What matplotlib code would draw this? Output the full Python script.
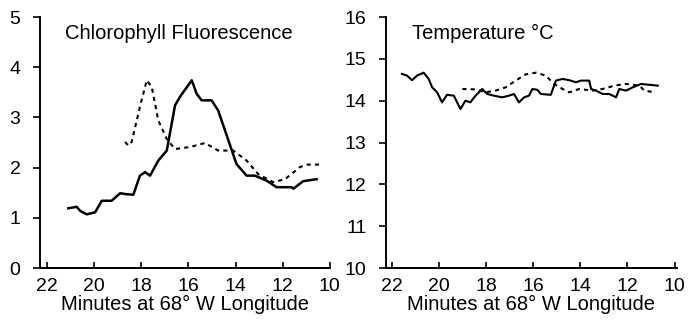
import matplotlib.pyplot as plt

plt.rcParams['font.family'] = ['Liberation Sans', 'DejaVu Sans']

# chlorophyll fluorescence, solid trace
chl_solid_min = [21.1, 20.74, 20.6, 20.32, 19.96, 19.68, 19.26, 18.9, 18.62, 18.34, 18.06,
                 17.84, 17.63, 17.28, 16.92, 16.57, 16.36, 15.86, 15.65, 15.44, 15.02,
                 14.74, 13.96, 13.53, 13.18, 12.68, 12.26, 11.62, 11.55, 11.13, 10.56]
chl_solid_val = [1.19, 1.22, 1.14, 1.07, 1.11, 1.34, 1.34, 1.49, 1.47, 1.46, 1.84,
                 1.91, 1.84, 2.14, 2.34, 3.24, 3.41, 3.74, 3.47, 3.34, 3.34,
                 3.14, 2.07, 1.84, 1.84, 1.74, 1.61, 1.61, 1.58, 1.73, 1.77]

# chlorophyll fluorescence, dotted trace
chl_dot_min = [18.69, 18.55, 18.41, 18.06, 17.77, 17.56, 17.28, 16.92, 16.57, 15.94,
               15.3, 14.74, 14.1, 13.53, 13.04, 12.4, 11.9, 11.27, 10.99, 10.28]
chl_dot_val = [2.51, 2.44, 2.51, 3.21, 3.74, 3.61, 2.94, 2.57, 2.37, 2.41,
               2.49, 2.34, 2.34, 2.14, 1.87, 1.71, 1.77, 2.01, 2.06, 2.06]

# temperature, solid trace
tmp_solid_min = [21.56, 21.35, 21.13, 20.92, 20.64, 20.43, 20.28, 20.07, 19.86, 19.65,
                 19.36, 19.08, 18.87, 18.66, 18.44, 18.16, 17.94, 17.66, 17.31, 17.02,
                 16.81, 16.6, 16.38, 16.17, 16.03, 15.82, 15.67, 15.25, 15.03, 14.75,
                 14.47, 14.18, 13.97, 13.62, 13.54, 13.33, 13.05, 12.77, 12.48, 12.34,
                 12.06, 11.77, 11.42, 10.71]
tmp_solid_val = [14.64, 14.6, 14.49, 14.6, 14.67, 14.52, 14.32, 14.2, 13.96, 14.14,
                 14.12, 13.8, 14.0, 13.96, 14.12, 14.28, 14.16, 14.12, 14.08, 14.12,
                 14.16, 13.96, 14.08, 14.12, 14.28, 14.26, 14.16, 14.14, 14.48, 14.52,
                 14.49, 14.44, 14.48, 14.48, 14.28, 14.24, 14.16, 14.16, 14.08, 14.28,
                 14.24, 14.32, 14.4, 14.36]

# temperature, dotted trace
tmp_dot_min = [19.0, 18.44, 18.01, 17.6, 17.16, 16.74, 16.31, 15.88, 15.46, 15.11,
               14.75, 14.47, 14.04, 13.48, 13.05, 12.55, 12.06, 11.49, 11.28, 10.85]
tmp_dot_val = [14.28, 14.27, 14.2, 14.24, 14.32, 14.48, 14.63, 14.67, 14.6, 14.4,
               14.28, 14.2, 14.28, 14.24, 14.28, 14.36, 14.4, 14.36, 14.24, 14.2]

xticks = [22, 20, 18, 16, 14, 12, 10]
xlabel = 'Minutes at 68° W Longitude'

fig = plt.figure(figsize=(6.9, 3.21), dpi=100)
ax1 = fig.add_axes([0.058, 0.165, 0.420, 0.782])
ax2 = fig.add_axes([0.559, 0.165, 0.422, 0.782])

ax1.plot(chl_solid_min, chl_solid_val, color='black', lw=1.8)
ax1.plot(chl_dot_min, chl_dot_val, color='black', lw=1.5, dashes=(2, 2))
ax1.set_xlim(22.3, 10)
ax1.set_ylim(0, 5)
ax1.set_yticks([0, 1, 2, 3, 4, 5])
ax1.text(0.085, 0.935, 'Chlorophyll Fluorescence', transform=ax1.transAxes,
         fontsize=14.5, va='center')

ax2.plot(tmp_solid_min, tmp_solid_val, color='black', lw=1.5)
ax2.plot(tmp_dot_min, tmp_dot_val, color='black', lw=1.5, dashes=(2, 2))
ax2.set_xlim(22.25, 9.9)
ax2.set_ylim(10, 16)
ax2.set_yticks([10, 11, 12, 13, 14, 15, 16])
ax2.text(0.09, 0.935, 'Temperature °C', transform=ax2.transAxes,
         fontsize=14.5, va='center')

for ax in (ax1, ax2):
    ax.set_xticks(xticks)
    ax.set_xlabel(xlabel, fontsize=14.5, labelpad=0)
    for s in ('top', 'right'):
        ax.spines[s].set_visible(False)
    for s in ('left', 'bottom'):
        ax.spines[s].set_linewidth(1.4)
    ax.tick_params(axis='y', direction='out', length=5, width=1.2, pad=9, labelsize=14)
    ax.tick_params(axis='x', direction='in', length=4, width=1.2, pad=7, labelsize=14)

fig.savefig('out.png', dpi=100)
